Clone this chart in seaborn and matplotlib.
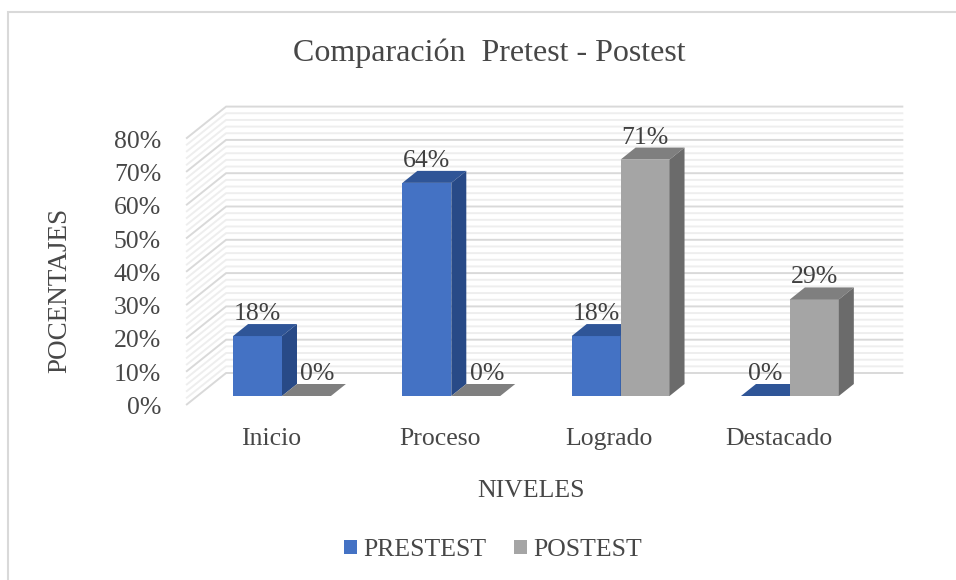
import numpy as np
import pandas as pd
import matplotlib
matplotlib.use("Agg")
import matplotlib.pyplot as plt
from matplotlib.patches import Polygon, Patch, Rectangle
import seaborn as sns

# data
niveles = ["Inicio", "Proceso", "Logrado", "Destacado"]
pretest = [18, 64, 18, 0]
postest = [0, 0, 71, 29]
series = ["PRESTEST", "POSTEST"]
y_ticks = [0, 10, 20, 30, 40, 50, 60, 70, 80]

df = pd.DataFrame({
    "nivel": niveles * 2,
    "pct": pretest + postest,
    "prueba": [series[0]] * len(niveles) + [series[1]] * len(niveles),
})

sns.set_theme(style="white")
plt.rcParams["font.family"] = ["Liberation Serif", "DejaVu Serif"]

W, H = 956, 580
fig = plt.figure(figsize=(W / 100, H / 100), dpi=100)
fig.patch.set_facecolor("white")

# axes placed in pixel terms so the fake 3D depth can be done in pixels
L, R, T, B = 150, 930, 90, 425
PX_X = 169.3   # px per category
PX_Y = 3.33    # px per percent
X0, Y0 = 282, 396  # pixel of category 0 / value 0 on the bar plane
ax = fig.add_axes([L / W, 1 - B / H, (R - L) / W, (B - T) / H])

front = {"PRESTEST": "#4472c4", "POSTEST": "#a5a5a5"}
top = {"PRESTEST": "#2f5597", "POSTEST": "#7f7f7f"}
side = {"PRESTEST": "#284a87", "POSTEST": "#6b6b6b"}
txt = "#474747"

sns.barplot(data=df, x="nivel", y="pct", hue="prueba", order=niveles,
            hue_order=series, palette=front, saturation=1, width=0.578,
            legend=False, ax=ax)

ax.set_xlim((L - X0) / PX_X, (R - X0) / PX_X)
ax.set_ylim((Y0 - B) / PX_Y, (Y0 - T) / PX_Y)
ax.axis("off")


def off(d):
    # oblique depth shift, d in px going back
    return d * 1.25 / PX_X, d / PX_Y


n = len(niveles)
dxf, dyf = off(-9)   # front edge of floor
dxb, dyb = off(23)   # back wall
for v in range(0, y_ticks[-1] + 1, 2):
    major = v % 10 == 0
    ax.plot([-0.5 + dxf, -0.5 + dxb, n - 0.5 + dxb],
            [v + dyf, v + dyb, v + dyb],
            color="#d9d9d9" if major else "#eeeeee", lw=1.4, zorder=0,
            solid_joinstyle="miter", solid_capstyle="butt")

# side / top faces and labels
dx, dy = off(12)
vals = {series[0]: pretest, series[1]: postest}
for k, (cont, name) in enumerate(zip(ax.containers, series)):
    for bar, val in zip(cont, vals[name]):
        x, w, h = bar.get_x(), bar.get_width(), bar.get_height()
        bar.set_zorder(2 + k)
        bar.set_edgecolor("none")
        ax.add_patch(Polygon([(x, h), (x + w, h), (x + w + dx, h + dy), (x + dx, h + dy)],
                             closed=True, facecolor=top[name], edgecolor="none", zorder=2 + k))
        if h > 0:
            ax.add_patch(Polygon([(x + w, 0), (x + w + dx, dy), (x + w + dx, h + dy), (x + w, h)],
                                 closed=True, facecolor=side[name], edgecolor="none", zorder=2 + k))
        shift = 11 / PX_X if (val == 0 and k == 1) else 0
        ax.text(x + w / 2 + shift, h + 16 / PX_Y, f"{val}%", ha="center", va="baseline",
                fontsize=18.5, color="#404040", zorder=5)

# value axis labels on front-left edge
for v in y_ticks:
    ax.text(-0.5 + dxf - 25 / PX_X, v + dyf - 3 / PX_Y, f"{v}%", ha="right", va="center",
            fontsize=18.5, color=txt, clip_on=False)

# category labels on the floor front
for i, name in enumerate(niveles):
    ax.text(i + dxf, (Y0 - 439) / PX_Y, name, ha="center", va="center",
            fontsize=18.5, color=txt, clip_on=False)

fig.text(489 / W, 1 - 53 / H, "Comparación  Pretest - Postest", ha="center", va="center",
         fontsize=23, color=txt)
fig.text(60 / W, 1 - 290 / H, "POCENTAJES", rotation=90, ha="center", va="center",
         fontsize=19.5, color=txt)
fig.text(531 / W, 1 - 491 / H, "NIVELES", ha="center", va="center",
         fontsize=18.5, color=txt)

handles = [Patch(facecolor=front[s], edgecolor="none", label=s) for s in series]
fig.legend(handles=handles, loc="center", bbox_to_anchor=(493 / W, 1 - 550 / H), ncol=2,
           frameon=False, fontsize=18.5, handlelength=0.5, handleheight=0.5,
           handletextpad=0.25, columnspacing=1.1, labelcolor=txt)

# chart area border (only left/top visible in the crop)
fig.patches.append(Rectangle((8 / W, -0.05), 1.2, 1.05 - 12 / H, transform=fig.transFigure,
                             facecolor="none", edgecolor="#d9d9d9", lw=1.5, zorder=0))

fig.savefig("out.png", dpi=100)
